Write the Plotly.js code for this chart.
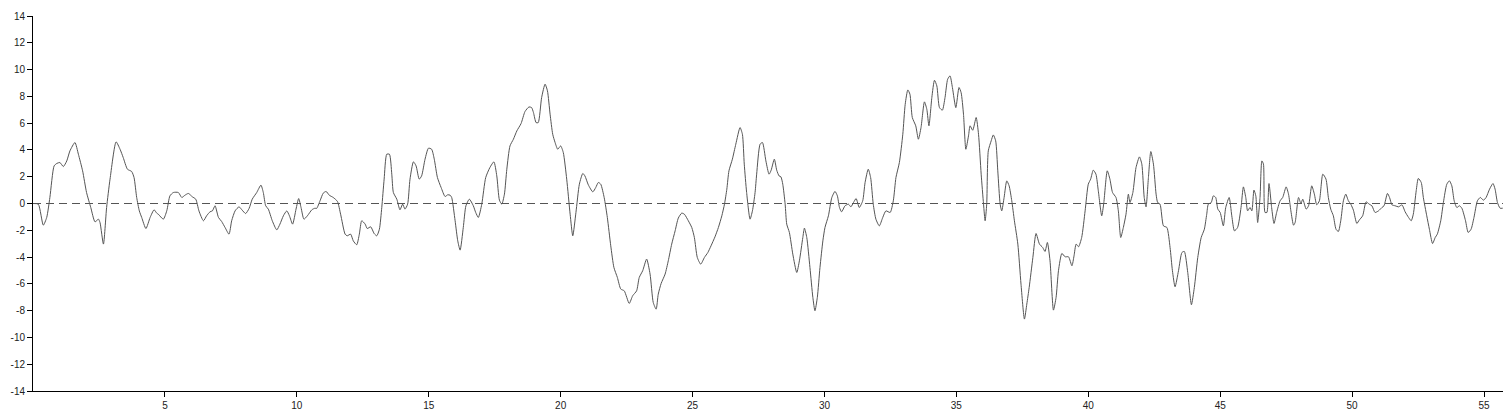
<!DOCTYPE html>
<html>
<head>
<meta charset="utf-8">
<script src="https://cdn.plot.ly/plotly-3.0.1.min.js"></script>
<style>html,body{margin:0;padding:0;background:#fff;}#chart{width:1507px;height:410px;}</style>
</head>
<body>
<div id="chart"></div>
<script>
const timeValues = [
0,0.2,0.39,0.52,0.64,0.80,0.90,1.02,1.15,1.28,1.40,1.59,1.72,1.88,2.03,2.19,2.35,2.48,2.54,2.67,2.79,2.92,3.15,3.30,3.42,3.58,3.74,3.83,3.93,4.03,4.12,4.28,4.44,4.59,4.69,
4.75,4.94,5.07,5.19,5.32,5.51,5.64,5.76,5.89,6.04,6.17,6.29,6.46,6.58,6.71,6.80,6.90,7.03,7.15,7.28,7.43,7.53,7.66,7.81,7.93,8.06,8.19,8.31,8.48,8.64,8.73,8.82,8.92,9.07,9.24,
9.36,9.49,9.62,9.72,9.84,9.97,10.07,10.16,10.27,10.40,10.57,10.69,10.75,10.88,11.00,11.11,11.23,11.38,11.54,11.66,11.83,11.91,12.04,12.14,12.27,12.37,12.46,12.59,12.67,12.80,12.93,13.03,13.13,13.22,13.31,13.41,13.51,13.60,13.66,13.79,13.91,14.01,
14.10,14.20,14.29,14.42,14.52,14.64,14.73,14.86,14.99,15.11,15.21,15.33,15.47,15.62,15.72,15.81,15.87,16.00,16.10,16.19,16.31,16.41,16.54,16.69,16.78,16.88,17.01,17.16,17.32,17.47,17.58,17.68,17.77,17.87,17.96,18.08,18.21,18.34,18.50,18.65,18.80,18.90,
18.97,19.07,19.15,19.28,19.41,19.50,19.60,19.70,19.79,19.89,20.00,20.10,20.23,20.36,20.46,20.58,20.71,20.84,20.92,21.05,21.22,21.33,21.43,21.52,21.65,21.77,21.90,22.02,22.15,22.28,22.41,22.60,22.73,22.88,22.98,23.11,23.26,23.39,23.51,23.62,
23.70,23.81,23.96,24.08,24.21,24.34,24.46,24.59,24.69,24.84,24.97,25.07,25.18,25.31,25.45,25.58,25.70,25.85,25.98,26.11,26.21,26.30,26.38,26.51,26.64,26.80,26.89,26.96,27.05,27.18,27.27,27.37,27.43,27.56,27.65,27.78,27.90,27.98,28.10,28.19,28.28,28.35,
28.42,28.51,28.57,28.67,28.80,28.95,29.05,29.18,29.24,29.33,29.45,29.56,29.64,29.73,29.83,29.94,30.02,30.15,30.28,30.40,30.49,30.57,30.65,30.78,30.91,31.00,31.10,31.20,31.32,31.45,31.54,31.66,31.75,31.85,31.95,32.08,32.21,32.33,32.49,32.61,32.71,32.84,32.97,
33.06,33.16,33.24,33.33,33.46,33.56,33.66,33.79,33.88,33.96,34.07,34.17,34.26,34.36,34.47,34.57,34.67,34.76,34.85,34.98,35.10,35.18,35.27,35.36,35.46,35.52,35.62,35.75,35.84,35.94,36.03,36.09,36.15,36.21,36.32,36.40,36.49,36.57,36.66,36.72,36.81,36.91,37.00,37.10,37.20,37.33,37.45,37.58,37.67,37.76,
37.90,38.02,38.15,38.27,38.36,38.45,38.55,38.68,38.78,38.87,39.00,39.12,39.25,39.38,39.46,39.54,39.63,39.75,39.88,40.00,40.09,40.19,40.29,40.38,40.51,40.59,40.72,40.82,40.92,41.05,41.14,41.23,41.33,41.43,41.52,41.58,41.69,41.81,41.94,42.03,42.12,42.19,42.28,42.37,42.47,
42.57,42.63,42.72,42.85,42.98,43.10,43.19,43.29,43.42,43.55,43.64,43.77,43.91,44.02,44.15,44.28,44.40,44.49,44.55,44.66,44.74,44.83,44.91,45.00,45.12,45.21,45.34,45.44,45.54,45.66,45.79,45.88,45.97,46.04,46.13,46.20,46.28,46.35,46.42,46.51,46.58,46.64,46.70,46.77,46.85,46.95,47.04,47.14,47.27,
47.37,47.50,47.59,47.68,47.78,47.84,47.97,48.06,48.13,48.26,48.35,48.47,48.57,48.66,48.76,48.89,49.01,49.10,49.19,49.29,49.39,49.48,49.57,49.67,49.76,49.86,49.95,50.05,50.18,50.27,50.40,50.53,50.65,50.75,50.87,51.00,51.13,51.21,
51.34,51.42,51.51,51.63,51.76,51.89,52.01,52.14,52.24,52.32,52.43,52.51,52.62,52.70,52.83,52.93,53.05,53.15,53.23,53.36,53.46,53.59,53.69,53.78,53.87,53.97,54.07,54.16,54.30,54.40,54.51,54.62,54.75,54.86,54.98,55.08,55.21,55.34,55.42,55.51,55.61,55.71
];
const signalValues = [
0,-0.05,-1.62,-1.04,0.45,2.81,2.99,3.06,2.76,3.18,3.93,4.55,3.68,2.44,0.82,-0.30,-1.37,-1.17,-1.42,-3.03,-0.30,1.82,4.60,4.05,3.43,2.56,2.39,1.94,0.45,-0.55,-1.04,-1.87,-1.04,-0.47,-0.72,
-0.80,-1.17,-0.55,0.57,0.82,0.82,0.45,0.62,0.75,0.50,0.32,-0.55,-1.29,-0.92,-0.62,-0.55,-0.17,-1.04,-1.34,-1.79,-2.29,-1.29,-0.55,-0.25,-0.50,-0.75,-0.37,0.32,0.82,1.37,0.82,-0.17,-0.42,-1.29,-1.97,
-1.54,-0.92,-0.55,-0.92,-1.54,-0.42,0.37,-0.30,-1.17,-0.92,-0.47,-0.35,-0.37,0.20,0.77,0.90,0.62,0.45,0.15,-0.80,-2.29,-2.41,-2.29,-2.79,-3.08,-2.29,-1.29,-1.54,-1.87,-1.74,-2.24,-2.41,-1.92,-0.30,1.82,3.68,3.68,2.19,0.82,0.32,-0.47,-0.05,
-0.42,-0.05,1.82,3.11,2.81,1.82,2.06,3.31,4.13,4.05,3.31,1.94,1.19,0.52,0.65,0.62,0.45,-1.29,-2.79,-3.48,-1.79,-0.17,0.32,-0.17,-0.67,-1.04,-0.05,1.94,2.69,3.11,2.06,0.25,-0.05,0.70,2.56,4.30,4.80,5.42,5.97,6.87,7.21,7.16,
6.79,6.04,6.04,7.91,8.91,8.41,6.67,5.17,4.55,4.05,4.30,3.81,1.82,-0.80,-2.41,-0.67,1.44,2.24,2.06,1.39,0.87,1.19,1.57,1.44,0.45,-1.04,-3.16,-4.78,-5.52,-6.39,-6.52,-7.46,-6.89,-6.52,-5.52,-5.02,-4.15,-5.27,-7.39,-7.89,
-6.77,-5.97,-5.27,-4.28,-3.03,-2.04,-1.09,-0.72,-0.80,-1.29,-1.79,-2.54,-4.03,-4.53,-4.03,-3.66,-3.16,-2.49,-1.79,-0.92,-0.05,1.07,2.44,3.31,4.43,5.67,5.17,2.94,0.82,-1.17,-0.55,0.82,2.19,4.43,4.55,3.18,2.19,2.49,3.31,2.49,2.06,1.99,
1.44,-0.05,-1.54,-2.16,-3.78,-5.15,-4.28,-2.54,-1.84,-2.54,-4.78,-7.01,-8.01,-7.01,-4.78,-2.79,-1.79,-0.92,0.45,0.90,0.57,-0.30,-0.62,-0.17,-0.05,-0.25,0.07,0.37,-0.30,0.20,1.57,2.56,1.94,-0.05,-1.17,-1.67,-1.04,-0.55,-0.67,0.20,1.94,3.06,5.17,
7.4,8.48,8.16,6.42,5.80,4.80,5.67,7.59,7.04,5.80,7.91,9.20,8.78,7.16,6.97,7.91,9.28,9.53,8.66,7.16,8.66,8.28,6.67,4.05,5.05,5.80,5.47,6.42,5.17,2.19,-0.05,-1.29,-0.05,3.93,4.68,5.12,4.68,2.44,-0.05,-0.55,0.45,1.69,1.32,0.20,-1.29,-3.03,-6.02,-8.63,-7.51,-6.27,
-4.03,-2.24,-3.03,-3.28,-3.58,-2.91,-4.28,-7.96,-7.01,-5.02,-3.73,-3.98,-3.98,-4.65,-3.91,-3.03,-3.23,-2.54,-0.55,1.44,1.82,2.49,2.19,0.95,-0.92,0.07,2.44,1.82,0.82,0.45,-0.55,-2.54,-1.79,-0.80,0.70,0.07,0.82,2.69,3.48,2.94,0.45,-0.25,1.94,3.88,2.94,
0.70,0.07,-0.05,-1.67,-1.79,-3.28,-5.02,-6.22,-5.02,-3.66,-3.58,-5.15,-7.56,-6.27,-4.03,-2.54,-1.92,-0.80,-0.05,0.07,0.57,0.45,-0.42,-0.67,-1.67,-0.30,0.45,-0.92,-2.04,-1.79,-0.30,1.24,0.45,-0.55,-0.30,-0.55,1.00,0.57,-1.42,0.45,3.18,2.94,-0.67,-0.67,1.49,-0.30,-1.49,-0.67,0.20,
0.45,1.24,0.70,-0.55,-1.62,-1.42,0.45,0,0.32,-0.42,-0.17,1.32,0.70,-0.10,0.20,2.19,1.82,0.45,-0.42,-0.92,-1.92,-2.09,-1.29,0.20,0.70,0.20,-0.05,-0.50,-1.49,-1.24,-0.92,0.12,-0.05,-0.17,-0.67,-0.55,-0.30,-0.17,
0.75,0.45,-0.10,-0.17,-0.25,-0.10,-0.62,-1.04,-1.29,-0.80,0.95,1.87,1.57,0.45,-0.92,-1.92,-2.99,-2.54,-2.29,-1.29,0.07,1.44,1.69,1.32,0.20,-0.30,-0.17,-0.35,-1.29,-2.16,-1.92,-1.04,0.20,0.45,0.25,0.45,1.07,1.49,1.07,0.07,-0.35,-0.35
];
const xTickValues = [5,10,15,20,25,30,35,40,45,50,55];
const yTickValues = [-14,-12,-10,-8,-6,-4,-2,0,2,4,6,8,10,12,14];
const xRange = [0, 55.72];
const yRange = [-14, 14];

const traces = [
  {
    x: xRange, y: [0, 0], mode: 'lines', hoverinfo: 'skip',
    line: {color: '#555', width: 1, dash: '8px,5px'}
  },
  {
    x: timeValues, y: signalValues, mode: 'lines',
    line: {color: '#555', width: 1, shape: 'spline', smoothing: 0.6}
  }
];

const axisFont = {family: 'Liberation Sans, Arial, sans-serif', size: 10, color: '#222'};
const layout = {
  width: 1507, height: 410,
  margin: {l: 33, r: 4, t: 16, b: 19, pad: 0},
  paper_bgcolor: '#fff', plot_bgcolor: '#fff',
  showlegend: false,
  xaxis: {
    range: xRange, tickvals: xTickValues, ticktext: xTickValues.map(String),
    showgrid: false, zeroline: false, showline: true, linecolor: '#000', linewidth: 1,
    ticks: 'outside', ticklen: 5, tickcolor: '#000', tickfont: axisFont
  },
  yaxis: {
    range: yRange, tickvals: yTickValues, ticktext: yTickValues.map(String),
    showgrid: false, zeroline: false, showline: true, linecolor: '#000', linewidth: 1,
    ticks: 'outside', ticklen: 5, tickcolor: '#000', tickfont: axisFont
  }
};
Plotly.newPlot('chart', traces, layout, {displayModeBar: false, staticPlot: true});
</script>
</body>
</html>
